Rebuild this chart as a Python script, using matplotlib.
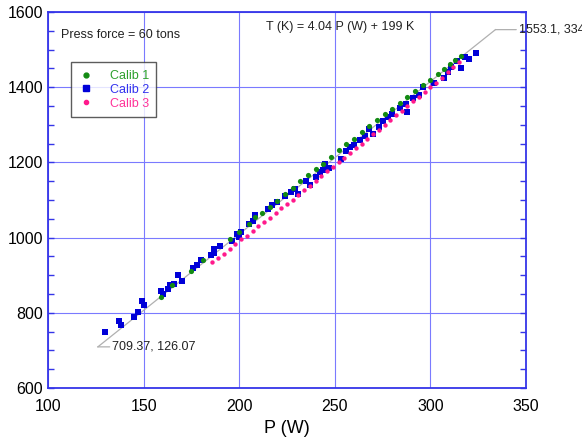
import matplotlib
matplotlib.use("Agg")
import matplotlib.pyplot as plt
from matplotlib.ticker import MultipleLocator
from matplotlib.lines import Line2D

plt.rcParams['font.family'] = ['Liberation Sans', 'DejaVu Sans']

# Calib 1 (green)
calib1_p = [159, 165, 175, 181, 195, 200, 205, 208, 212, 216, 220, 224, 228, 232,
            236, 240, 244, 248, 252, 256, 260, 264, 268, 272, 276, 280, 284, 288,
            292, 296, 300, 304, 307, 310, 313, 316]
calib1_t = [842, 873, 912, 940, 996, 1014, 1036, 1054, 1066, 1082, 1098, 1116, 1132, 1150,
            1166, 1182, 1196, 1214, 1232, 1248, 1263, 1280, 1296, 1312, 1328, 1343, 1358, 1374,
            1390, 1406, 1420, 1435, 1449, 1462, 1473, 1482]

# Calib 2 (blue)
calib2_p = [130, 137, 138, 145, 147, 149, 150, 159, 160, 163, 164, 166, 168, 170,
            176, 178, 180, 185, 187, 187, 190, 196, 199, 200, 201, 205, 207, 208,
            215, 217, 220, 224, 227, 229, 231, 235, 237, 240, 242, 244, 245, 247,
            253, 256, 258, 260, 263, 266, 268, 270, 273, 275, 278, 280, 284, 287,
            288, 291, 294, 296, 302, 307, 309, 311, 314, 316, 318, 320, 324]
calib2_t = [748, 778, 768, 790, 802, 832, 820, 858, 850, 862, 875, 876, 900, 885,
            918, 928, 940, 955, 970, 958, 978, 992, 1010, 1002, 1015, 1035, 1045, 1060,
            1075, 1088, 1095, 1110, 1122, 1130, 1115, 1150, 1140, 1160, 1175, 1180, 1195, 1185,
            1210, 1230, 1240, 1245, 1260, 1270, 1290, 1275, 1295, 1310, 1320, 1330, 1345, 1355,
            1335, 1370, 1380, 1400, 1410, 1425, 1440, 1455, 1470, 1450, 1480, 1475, 1490]

# Calib 3 (pink)
calib3_p = [186, 189, 192, 195, 198, 201, 204, 207, 210, 213, 216, 219, 222, 225,
            228, 231, 234, 237, 240, 243, 246, 249, 252, 255, 258, 261, 264, 267,
            270, 273, 276, 279, 282, 285, 288, 291, 294, 297, 300, 303, 306, 309, 312, 315]
calib3_t = [935, 946, 956, 970, 982, 995, 1005, 1018, 1030, 1042, 1052, 1065, 1078, 1090,
            1100, 1113, 1126, 1138, 1150, 1163, 1176, 1188, 1200, 1212, 1225, 1237, 1250, 1262,
            1275, 1287, 1300, 1312, 1325, 1337, 1350, 1362, 1375, 1387, 1400, 1412, 1425, 1440, 1455, 1466]

fit_p = [126.07, 334]
fit_t = [709.37, 1553.1]

x_ticks = [100, 150, 200, 250, 300, 350]
y_ticks = [600, 800, 1000, 1200, 1400, 1600]

grid_blue = '#7a7aff'
spine_blue = '#3535e8'

fig = plt.figure(figsize=(5.82, 4.43), dpi=100)
ax = fig.add_axes([0.0825, 0.1242, 0.9038 - 0.0825, 0.9729 - 0.1242])
ax.set_xlim(100, 350)
ax.set_ylim(600, 1600)
ax.set_xticks(x_ticks)
ax.set_yticks(y_ticks)
ax.yaxis.set_minor_locator(MultipleLocator(50))
ax.grid(True, which='major', color=grid_blue, linewidth=0.8)
ax.set_axisbelow(True)
for s in ax.spines.values():
    s.set_color(spine_blue)
    s.set_linewidth(1.3)
ax.tick_params(axis='both', which='both', direction='in', color=spine_blue,
               labelsize=11.5, length=4, width=1.0)
ax.tick_params(axis='y', which='both', right=True)
ax.tick_params(axis='x', which='major', length=0, pad=8)

ax.plot(fit_p, fit_t, color='#b0b0b0', linewidth=0.9, zorder=2)

ax.scatter(calib2_p, calib2_t, s=20, color='#0000d8', marker='s', zorder=3, linewidths=0)
ax.scatter(calib1_p, calib1_t, s=14, color='#138a13', marker='o', zorder=4, linewidths=0)
ax.scatter(calib3_p, calib3_t, s=10, color='#ff1a8c', marker='o', zorder=5, linewidths=0)

# leader lines + labels
ax.annotate('709.37, 126.07', xy=(fit_p[0], fit_t[0]), xytext=(10.5, 0),
            textcoords='offset points', fontsize=9, va='center', ha='left',
            color='#222222',
            arrowprops=dict(arrowstyle='-', color='#b0b0b0', lw=0.9, shrinkA=0, shrinkB=0))
ax.annotate('1553.1, 334', xy=(fit_p[1], fit_t[1]), xytext=(17, 0),
            textcoords='offset points', fontsize=9, va='center', ha='left',
            color='#222222', annotation_clip=False,
            arrowprops=dict(arrowstyle='-', color='#b0b0b0', lw=0.9, shrinkA=0, shrinkB=0))

ax.text(107, 1540, 'Press force = 60 tons', fontsize=9, va='center', ha='left', color='#222222')
ax.text(214, 1560, 'T (K) = 4.04 P (W) + 199 K', fontsize=9, va='center', ha='left', color='#222222')

# legend
handles = [Line2D([], [], linestyle='none', marker='o', color='#138a13', markersize=3.5),
           Line2D([], [], linestyle='none', marker='s', color='#0000d8', markersize=4),
           Line2D([], [], linestyle='none', marker='o', color='#ff1a8c', markersize=3)]
leg = ax.legend(handles, ['Calib 1', 'Calib 2', 'Calib 3'],
                loc='upper left', bbox_to_anchor=(0.048, 0.866), borderaxespad=0,
                fontsize=9, frameon=True, fancybox=False, borderpad=0.6,
                handletextpad=1.3, labelspacing=0.15, handlelength=1.2)
leg.get_frame().set_edgecolor('#333333')
leg.get_frame().set_linewidth(1.0)
for t, c in zip(leg.get_texts(), ['#2ca02c', '#3333ee', '#ff3399']):
    t.set_color(c)

ax.set_xlabel('P (W)', fontsize=13, labelpad=4)

fig.savefig('out.png', dpi=100)
